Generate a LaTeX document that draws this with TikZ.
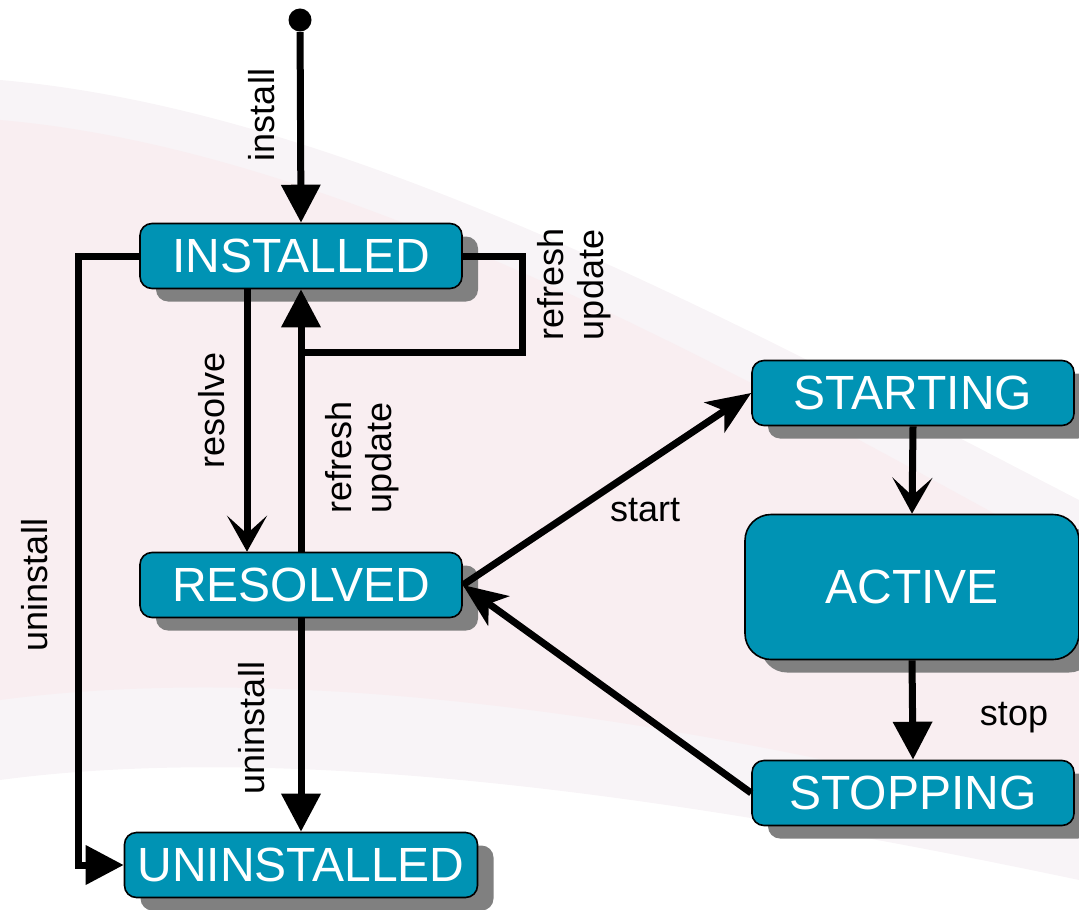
\documentclass[tikz,border=0pt]{standalone}
\usepackage{fontspec}
\setmainfont{Liberation Sans}
\usepackage{xcolor}
\definecolor{statefill}{HTML}{0093B4}
\definecolor{shade}{HTML}{808080}
\definecolor{feather}{HTML}{F9EEF1}
\definecolor{featherlight}{HTML}{F8F4F7}
\usepackage{tikz}
\usetikzlibrary{
    arrows.meta,
    shadows,
    positioning,
}

\begin{document}
\begin{tikzpicture}[%
    x=0.5pt, y=-0.5pt,
    state/.style={
        rectangle,
        rounded corners=6pt,
        minimum width=161pt,
        minimum height=32.5pt,
        inner sep=0,
        draw=black,
        line width=0.8pt,
        fill=statefill,
        text=white,
        font=\fontsize{24}{28}\selectfont,
        drop shadow={shadow xshift=8pt, shadow yshift=-6.5pt, fill=shade, opacity=1},
    },
    flow/.style={
        draw,
        black,
        line width=3.5pt
    },
    solid tip/.style={-{Triangle[length=19pt,width=19pt]}},
    sharp tip/.style={-{Stealth[length=22pt,width=18pt,inset=6pt]}},
    open tip/.style={-{Stealth[length=18pt,width=20pt,inset=9pt]}},
    lbl/.style={
        font=\fontsize{18}{20}\selectfont,
        rotate=90,
        align=left,
        inner sep=0
    },
    tag/.style={
        font=\fontsize{18}{20}\selectfont,
        inner sep=0
    }
]

\useasboundingbox (0, 0) rectangle (1079, 909);

% watermark
\fill[featherlight] (0,80) .. controls (350,110) and (750,330) .. (1079,500)
    -- (1079,880) .. controls (700,800) and (300,740) .. (0,780) -- cycle;
\fill[feather] (0,120) .. controls (350,150) and (750,380) .. (1079,560)
    -- (1079,820) .. controls (700,720) and (300,660) .. (0,700) -- cycle;

\node [circle, fill=black, inner sep=0, minimum size=11.5pt] (init) at (300, 20) {};

\node [state] (installed) at (301, 256) {INSTALLED};
\node [state] (resolved) at (301, 585) {RESOLVED};
\node [state, minimum width=176.5pt] (uninstalled) at (301, 865) {UNINSTALLED};
\node [state] (starting) at (913, 393) {STARTING};
\node [state, minimum width=167pt, minimum height=72.5pt, rounded corners=13pt] (active) at (912, 587) {ACTIVE};
\node [state] (stopping) at (913, 793) {STOPPING};

\coordinate (loop) at (522, 352);
\coordinate (bend) at (78, 256);

\draw [flow, solid tip] (init) -- (installed.north);
\draw [flow, open tip] ([xshift=-27pt]installed.south) -- ([xshift=-27pt]resolved.north);
\draw [flow, solid tip] (resolved.north) -- (installed.south);
\draw [flow] (installed.east) -| (loop) -- (loop -| installed.south);
\draw [flow, solid tip] (installed.west) -- (bend) |- (uninstalled.west);
\draw [flow, solid tip] (resolved.south) -- (uninstalled.north);
\draw [flow, sharp tip] (resolved.east) -- (starting.west);
\draw [flow, open tip] (starting.south) -- (active.north);
\draw [flow, solid tip] (active.south) -- (stopping.north);
\draw [flow, sharp tip] (stopping.west) -- (resolved.east);

\node [lbl] (install label) at (262, 115) {install};
\node [lbl] (resolve label) at (212, 410) {resolve};
\node [lbl] (refresh label) at (362, 457) {refresh\\update};
\node [lbl] (loop label) at (574, 284) {refresh\\update};
\node [lbl] (uninstall label) at (35, 585) {uninstall};
\node [lbl] (remove label) at (252, 728) {uninstall};
\node [tag] (start label) at (645, 510) {start};
\node [tag] (stop label) at (1014, 718) {stop};

\end{tikzpicture}
\end{document}
